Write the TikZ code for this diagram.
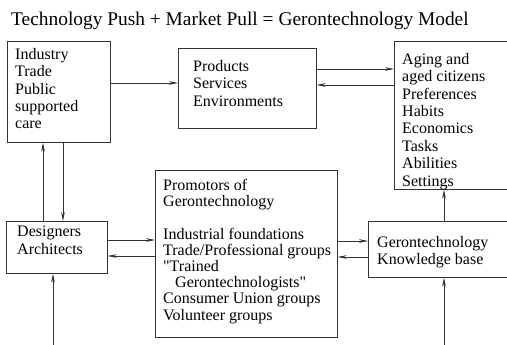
\documentclass[tikz,border=0pt]{standalone}
\usepackage{fontspec}
\setmainfont{Liberation Serif}[Ligatures=TeXOff]
\usetikzlibrary{arrows.meta}
\begin{document}
\begin{tikzpicture}[x=1pt,y=-1pt,
  panel/.style={draw=black!80, line width=0.7pt, inner sep=0pt, anchor=north west},
  txt/.style={anchor=north west, inner sep=0pt, align=left, font=\fontsize{16}{17.4}\selectfont},
  arr/.style={draw=black!80, line width=0.7pt, -{Stealth[length=9pt,width=3.6pt]}}]
\useasboundingbox (0,0) rectangle (507,345);
\clip (0,0) rectangle (507,345);
% title
\node[anchor=base west, inner sep=0pt, font=\fontsize{19.4}{21}\selectfont] (title) at (11,26)
  {Technology Push + Market Pull = Gerontechnology Model};
% boxes
\node[panel, minimum width=103pt, minimum height=101pt] (b1) at (7,41) {};
\node[panel, minimum width=138pt, minimum height=80pt] (b2) at (178,48) {};
\node[panel, minimum width=126pt, minimum height=148pt] (b3) at (394,41) {};
\node[panel, minimum width=101pt, minimum height=52pt] (b4) at (6,221) {};
\node[panel, minimum width=182pt, minimum height=167pt] (b5) at (155,170) {};
\node[panel, minimum width=152pt, minimum height=56pt] (b6) at (368,221) {};
% texts
\node[txt] (t1) at (15,48) {Industry\\Trade\\Public\\supported\\care};
\node[txt] (t2) at (193,60) {Products\\Services\\Environments};
\node[txt] (t3) at (402,53) {Aging and\\aged citizens\\Preferences\\Habits\\Economics\\Tasks\\Abilities\\Settings};
\node[txt] (t4) at (17,226) {Designers\\Architects};
\node[txt, font=\fontsize{16}{16.2}\selectfont] (t5) at (163,179) {Promotors of\\Gerontechnology\\[16.2pt]Industrial foundations\\Trade/Professional groups\\"Trained\\\hspace*{12pt}Gerontechnologists"\\Consumer Union groups\\Volunteer groups};
\node[txt] (t6) at (377,236) {Gerontechnology\\Knowledge base};
% helper coordinates
\coordinate (h83) at (0,83);
\coordinate (h69) at (0,69);
\coordinate (h85) at (0,85);
\coordinate (h240) at (0,240);
\coordinate (h256) at (0,256);
\coordinate (h241) at (0,241);
\coordinate (h257) at (0,257);
\coordinate (v43) at (43,0);
\coordinate (v63) at (63,0);
\coordinate (v444) at (444,0);
\coordinate (bot53) at (53,350);
\coordinate (bot444) at (444,350);
% connectors
\draw[arr] (b1.east |- h83) -- (b2.west |- h83);
\draw[arr] (b2.east |- h69) -- (b3.west |- h69);
\draw[arr] (b3.west |- h85) -- (b2.east |- h85);
\draw[arr] (v43 |- b4.north) -- (v43 |- b1.south);
\draw[arr] (v63 |- b1.south) -- (v63 |- b4.north);
\draw[arr] (b4.east |- h240) -- (b5.west |- h240);
\draw[arr] (b5.west |- h256) -- (b4.east |- h256);
\draw[arr] (b5.east |- h241) -- (b6.west |- h241);
\draw[arr] (b6.west |- h257) -- (b5.east |- h257);
\draw[arr] (v444 |- b6.north) -- (v444 |- b3.south);
\draw[arr] (bot53) -- (bot53 |- b4.south);
\draw[arr] (bot444) -- (bot444 |- b6.south);
\end{tikzpicture}
\end{document}
